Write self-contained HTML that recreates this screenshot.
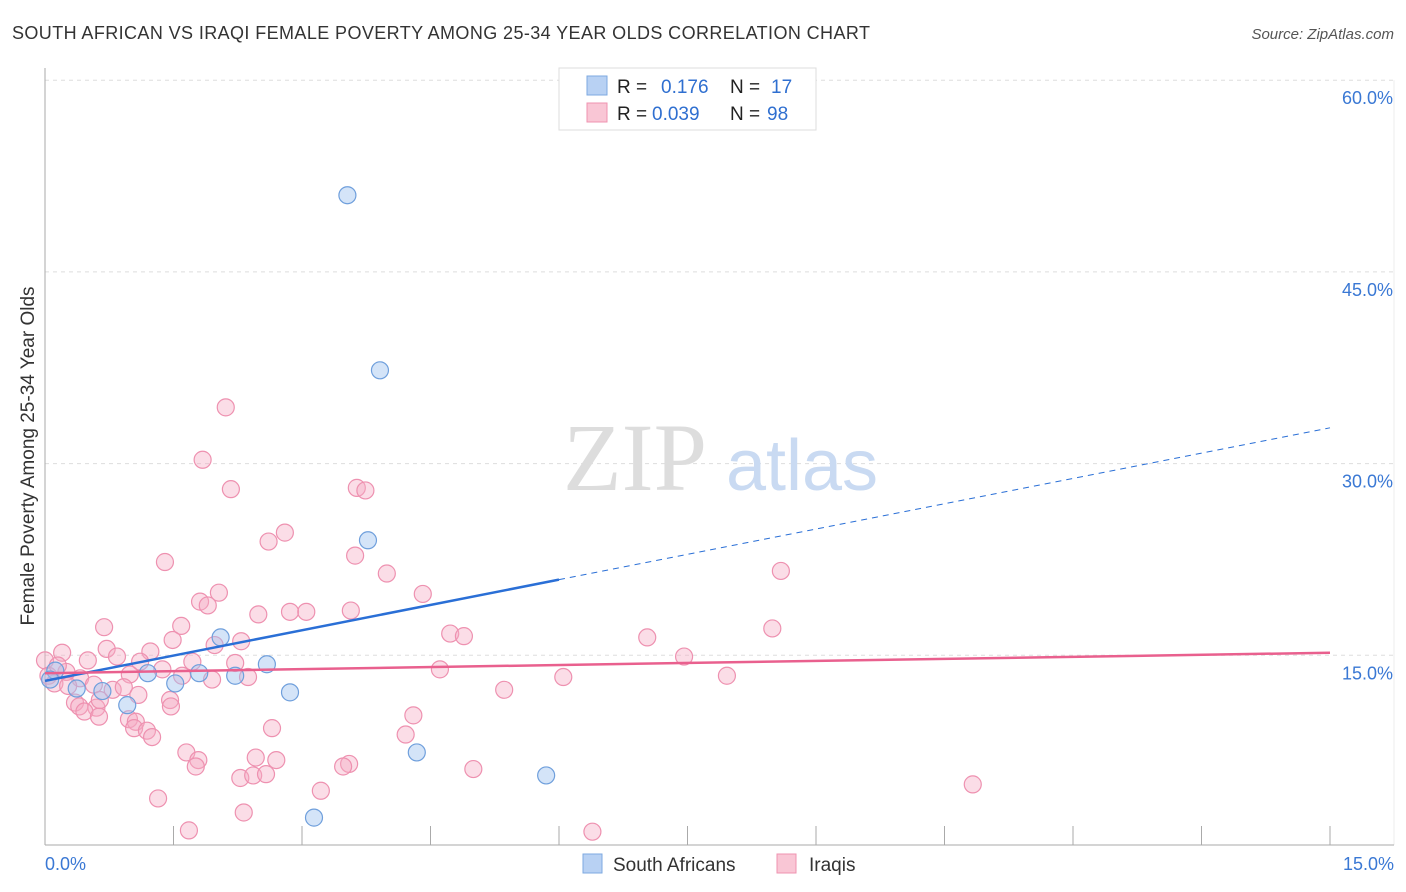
<!DOCTYPE html>
<html><head><meta charset="utf-8"><style>
body{margin:0;background:#fff;font-family:"Liberation Sans",sans-serif;}
svg{display:block}
</style></head><body>
<svg id="chart" width="1406" height="892" xmlns="http://www.w3.org/2000/svg" font-family="Liberation Sans, sans-serif">
<text x="12" y="39" font-size="18" letter-spacing="0.4" fill="#333">SOUTH AFRICAN VS IRAQI FEMALE POVERTY AMONG 25-34 YEAR OLDS CORRELATION CHART</text>
<text x="1394" y="39" font-size="15" fill="#555" font-style="italic" text-anchor="end">Source: ZipAtlas.com</text>
<text transform="translate(34,456) rotate(-90)" font-size="19" fill="#333" text-anchor="middle">Female Poverty Among 25-34 Year Olds</text>
<g id="grid"></g>
<g id="watermark">
<text x="635" y="490" font-size="96" fill="#ddd" font-family="Liberation Serif, serif" text-anchor="middle">ZIP</text>
<text x="802" y="490" font-size="72" fill="#c9daf2" text-anchor="middle">atlas</text>
</g>
<g id="pts"></g>
<g id="trends"></g>
<g>
<rect x="559" y="68" width="257" height="62" fill="#fff" stroke="#ddd"/>
<rect x="587" y="76" width="20" height="19" fill="#b8d1f3" stroke="#7ea9e0"/>
<rect x="587" y="103" width="20" height="19" fill="#f9c6d5" stroke="#ef93b0"/>
<text x="617" y="93" font-size="19" fill="#222">R = </text><text x="661" y="93" font-size="19" fill="#2f6fd0">0.176</text>
<text x="730" y="93" font-size="19" fill="#222">N = </text><text x="771" y="93" font-size="19" fill="#2f6fd0">17</text>
<text x="617" y="120" font-size="19" fill="#222">R = </text><text x="652" y="120" font-size="19" fill="#2f6fd0">0.039</text>
<text x="730" y="120" font-size="19" fill="#222">N = </text><text x="767" y="120" font-size="19" fill="#2f6fd0">98</text>
</g>
<g>
<rect x="583" y="854" width="19" height="19" fill="#b8d1f3" stroke="#7ea9e0"/>
<text x="613" y="871" font-size="19" fill="#333">South Africans</text>
<rect x="777" y="854" width="19" height="19" fill="#f9c6d5" stroke="#ef93b0"/>
<text x="809" y="871" font-size="19" fill="#333">Iraqis</text>
</g>
</svg>
<script>
const xTicks=[0,1.5,3,4.5,6,7.5,9,10.5,12,13.5,15];
const yTicks=[15,30,45,60];
const yTickLabels=["15.0%","30.0%","45.0%","60.0%"];
const saX=[3.53,3.91,3.77,2.05,2.59,2.22,1.80,1.20,1.52,2.86,0.96,0.67,0.37,0.12,0.06,4.34,5.85,3.14];
const saY=[51.0,37.3,24.0,16.4,14.3,13.4,13.6,13.6,12.8,12.1,11.1,12.2,12.4,13.8,13.1,7.4,5.6,2.3];
const iqX=[2.11,1.84,2.17,3.64,3.74,2.80,2.61,3.62,1.40,3.99,8.59,2.03,1.81,1.90,4.41,2.49,2.86,3.05,3.57,0.69,1.59,4.73,4.89,7.03,8.49,1.98,2.29,1.49,1.23,0.72,0.20,0.0,0.50,0.84,1.11,1.72,2.22,7.46,4.61,6.05,7.96,1.37,1.60,0.99,0.41,0.25,0.04,0.11,0.27,0.57,0.79,0.92,1.09,1.46,1.95,2.37,5.36,0.35,0.40,0.60,0.46,0.63,0.98,1.06,1.04,1.19,1.25,1.47,2.65,4.30,4.21,1.65,1.79,1.76,2.46,2.70,3.55,3.48,5.00,2.28,2.43,2.58,3.22,1.32,2.32,1.68,6.39,10.83,0.15,0.64];
const iqY=[34.4,30.3,28.0,28.1,27.9,24.6,23.9,22.8,22.3,21.4,21.6,19.9,19.2,18.9,19.8,18.2,18.4,18.4,18.5,17.2,17.3,16.7,16.5,16.4,17.1,15.8,16.1,16.2,15.3,15.5,15.2,14.6,14.6,14.9,14.5,14.5,14.4,14.9,13.9,13.3,13.4,13.9,13.4,13.5,13.2,13.7,13.4,12.8,12.6,12.7,12.3,12.5,11.9,11.5,13.1,13.3,12.3,11.3,11.0,10.9,10.6,10.2,10.0,9.8,9.3,9.1,8.6,11.0,9.3,10.3,8.8,7.4,6.8,6.3,7.0,6.8,6.5,6.3,6.1,5.4,5.6,5.7,4.4,3.8,2.7,1.3,1.2,4.9,14.2,11.5];
const saTrend=[13.0,32.8];
const iqTrend=[13.6,15.2];
const saSolidEnd=6.0;
const NS="http://www.w3.org/2000/svg";
const X=v=>45+v/15*1285;
const Y=v=>847-v/15*191.7;
function mk(tag,attrs,parent){const e=document.createElementNS(NS,tag);for(const k in attrs)e.setAttribute(k,attrs[k]);parent.appendChild(e);return e;}
const grid=document.getElementById('grid');
yTicks.forEach((t,i)=>{
 const l=mk('line',{x1:45,x2:1394,y1:Y(t),y2:Y(t),stroke:'#ddd','stroke-dasharray':'4,4'},grid);
 
 
 const tx=mk('text',{x:1393,y:Y(t)+24,'font-size':18,fill:'#3a78d4','text-anchor':'end'},grid);
 tx.textContent=yTickLabels[i];
 
 
});
mk('line',{x1:1394,x2:1394,y1:Y(60),y2:845,stroke:'#eee'},grid);
const ya=mk('line',{x1:45,x2:45,y1:68,y2:845,stroke:'#aaa'},grid);


const xa=mk('line',{x1:45,x2:1394,y1:845,y2:845,stroke:'#aaa'},grid);


xTicks.forEach(t=>{
 const l=mk('line',{x1:X(t),x2:X(t),y1:826,y2:845,stroke:'#aaa'},grid);
 
 
});
const xl0=mk('text',{x:45,y:870,'font-size':18,fill:'#3a78d4'},grid);xl0.textContent=xTicks[0].toFixed(1)+'%';


const xl1=mk('text',{x:1394,y:870,'font-size':18,fill:'#3a78d4','text-anchor':'end'},grid);xl1.textContent=xTicks[xTicks.length-1].toFixed(1)+'%';


const pts=document.getElementById('pts');
iqX.forEach((x,i)=>{
 const c=mk('circle',{cx:X(x),cy:Y(iqY[i]),r:8.5,fill:'rgba(245,170,195,0.4)',stroke:'#ee91b0','stroke-width':1.2},pts);
 
 
});
saX.forEach((x,i)=>{
 const c=mk('circle',{cx:X(x),cy:Y(saY[i]),r:8.5,fill:'rgba(160,195,240,0.45)',stroke:'#6f9fdc','stroke-width':1.2},pts);
 
 
});
const tr=document.getElementById('trends');
const saAt=x=>saTrend[0]+(saTrend[1]-saTrend[0])*x/15;
const t1=mk('line',{x1:X(0),y1:Y(saAt(0)),x2:X(saSolidEnd),y2:Y(saAt(saSolidEnd)),stroke:'#2a6fd6','stroke-width':2.5},tr);


const t2=mk('line',{x1:X(saSolidEnd),y1:Y(saAt(saSolidEnd)),x2:X(15),y2:Y(saAt(15)),stroke:'#2a6fd6','stroke-width':1,'stroke-dasharray':'6,5'},tr);


const t3=mk('line',{x1:X(0),y1:Y(iqTrend[0]),x2:X(15),y2:Y(iqTrend[1]),stroke:'#e9608e','stroke-width':2.5},tr);


</script>
</body></html>
